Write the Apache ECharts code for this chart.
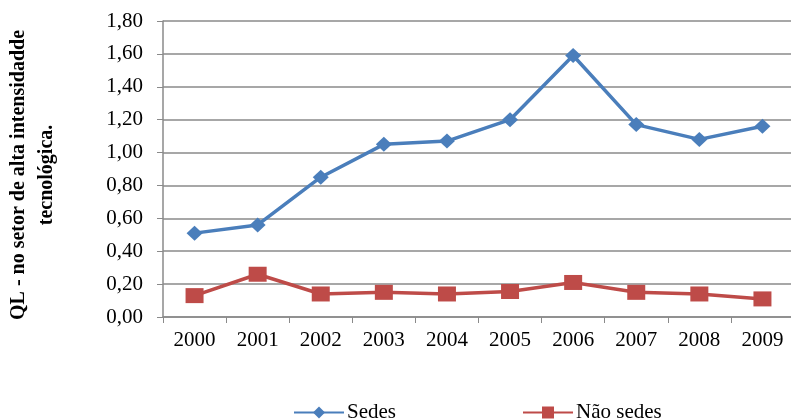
<!DOCTYPE html>
<html>
<head>
<meta charset="utf-8">
<script src="https://cdn.jsdelivr.net/npm/echarts@6/dist/echarts.min.js"></script>
<style>
  html, body { margin: 0; padding: 0; background: #fff; }
  #main { width: 791px; height: 419px; }
</style>
</head>
<body>
<div id="main"></div>
<script>
var anos = ['2000', '2001', '2002', '2003', '2004', '2005', '2006', '2007', '2008', '2009'];
var sedes = [0.51, 0.56, 0.85, 1.05, 1.07, 1.20, 1.59, 1.17, 1.08, 1.16];
var naoSedes = [0.13, 0.26, 0.14, 0.15, 0.14, 0.155, 0.21, 0.15, 0.14, 0.11];
var yTicks = { min: 0, max: 1.8, interval: 0.2 };

var fonte = '"Liberation Serif", "DejaVu Serif", serif';
var myChart = echarts.init(document.getElementById('main'));
var option = {
    animation: false,
    textStyle: { fontFamily: fonte },
    grid: { left: 163, top: 21, width: 631, height: 296, outerBoundsMode: 'none' },
    legend: {
        bottom: -4,
        left: 293,
        padding: 0,
        itemWidth: 50,
        itemHeight: 15,
        itemGap: 126,
        textStyle: { fontFamily: fonte, fontSize: 21, color: '#000', padding: [0, 0, 0, -2] },
        data: ['Sedes', 'Não sedes']
    },
    xAxis: {
        type: 'category',
        data: anos,
        boundaryGap: true,
        axisLine: { lineStyle: { color: '#8a8a8a', width: 1.5 } },
        axisTick: { show: true, length: 6, lineStyle: { color: '#8a8a8a' } },
        axisLabel: { color: '#000', fontSize: 21, margin: 13, fontFamily: fonte }
    },
    yAxis: {
        type: 'value',
        min: yTicks.min,
        max: yTicks.max,
        interval: yTicks.interval,
        name: 'QL - no setor de alta intensidadde\ntecnológica.',
        nameLocation: 'middle',
        nameRotate: 90,
        nameGap: 102,
        nameTextStyle: {
            fontFamily: fonte, fontSize: 20, fontWeight: 'bold', color: '#000',
            lineHeight: 28, padding: [0, 12, 0, 0]
        },
        axisLine: { show: true, lineStyle: { color: '#8a8a8a', width: 1.5 } },
        axisTick: { show: true, length: 6, lineStyle: { color: '#8a8a8a' } },
        splitLine: { lineStyle: { color: '#8a8a8a', width: 1.5 } },
        axisLabel: {
            color: '#000', fontSize: 21, margin: 20, fontFamily: fonte,
            formatter: function (v) { return v.toFixed(2).replace('.', ','); }
        }
    },
    series: [
        {
            name: 'Sedes',
            type: 'line',
            data: sedes,
            symbol: 'diamond',
            symbolSize: [16, 15],
            lineStyle: { color: '#4a7ebb', width: 3.5 },
            itemStyle: { color: '#4a7ebb' }
        },
        {
            name: 'Não sedes',
            type: 'line',
            data: naoSedes,
            symbol: 'rect',
            symbolSize: [18, 15],
            lineStyle: { color: '#be4b48', width: 3.5 },
            itemStyle: { color: '#be4b48' }
        }
    ]
};
myChart.setOption(option);
</script>
</body>
</html>
